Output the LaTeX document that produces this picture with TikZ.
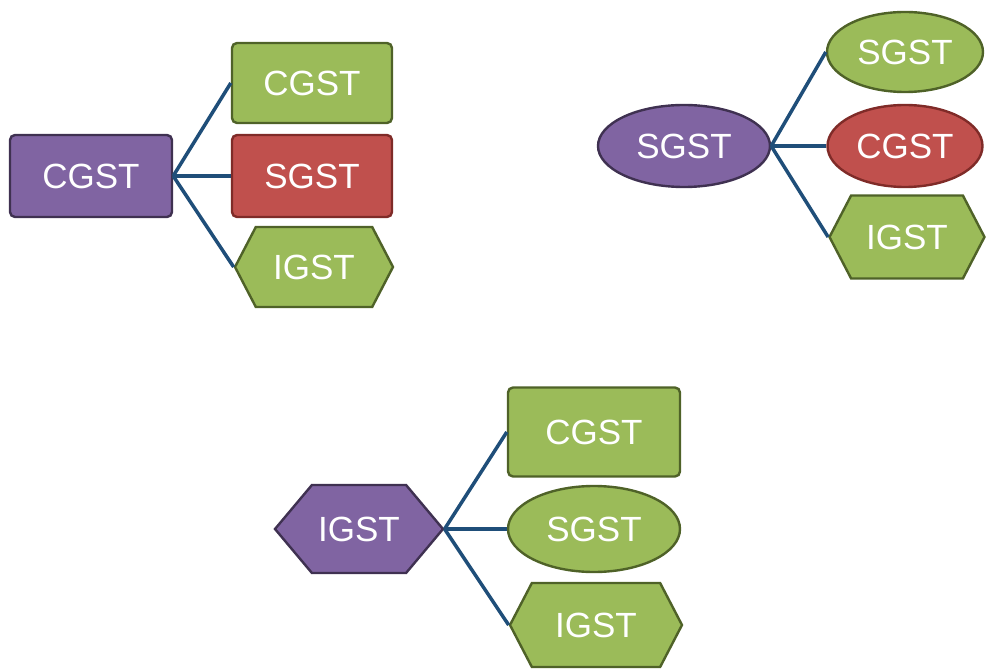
\documentclass[tikz,border=0pt]{standalone}
\usepackage{fontspec}
\setmainfont{Liberation Sans}
\usetikzlibrary{shapes.geometric,shapes.symbols}

\definecolor{headfill}{HTML}{8064A2}
\definecolor{headline}{HTML}{3F3151}
\definecolor{leaffill}{HTML}{9BBB59}
\definecolor{leafline}{HTML}{4F6228}
\definecolor{redfill}{HTML}{C0504D}
\definecolor{redline}{HTML}{7F2B28}
\definecolor{linkblue}{HTML}{1F4E79}

\begin{document}
\begin{tikzpicture}[x=1pt,y=-1pt,
  every node/.style={text=white,font=\fontsize{35}{42}\selectfont,line width=2.4pt,inner sep=0pt},
  box/.style={rectangle,rounded corners=5pt},
  oval/.style={ellipse},
  hexa/.style={signal,signal to=east and west,signal pointer angle=#1},
  hexa/.default=125,
  head/.style={fill=headfill,draw=headline},
  leaf/.style={fill=leaffill,draw=leafline},
  other/.style={fill=redfill,draw=redline},
  link/.style={draw=linkblue,line width=3.5pt}]

\useasboundingbox (0,0) rectangle (989,671);

% CGST
\node[box,head,minimum width=162pt,minimum height=82pt] (cgst) at (91,176) {CGST};
\node[box,leaf,minimum width=160pt,minimum height=80pt] (cgstC) at (312,83) {CGST};
\node[box,other,minimum width=160pt,minimum height=82pt] (cgstS) at (312,176) {SGST};
\node[hexa,leaf,minimum width=158pt,minimum height=80pt] (cgstI) at (314,267) {IGST};
\draw[link] (cgst.east) -- (cgstC.west);
\draw[link] (cgst.east) -- (cgstS.west);
\draw[link] (cgst.east) -- (cgstI.west);

% SGST
\node[oval,head,minimum width=172pt,minimum height=82pt] (sgst) at (684,146) {SGST};
\node[oval,leaf,minimum width=156pt,minimum height=80pt] (sgstS) at (905,52) {SGST};
\node[oval,other,minimum width=155pt,minimum height=82pt] (sgstC) at (905,146) {CGST};
\node[hexa,leaf,minimum width=155pt,minimum height=83pt] (sgstI) at (907,237) {IGST};
\draw[link] (sgst.east) -- (sgstS.west);
\draw[link] (sgst.east) -- (sgstC.west);
\draw[link] (sgst.east) -- (sgstI.west);

% IGST
\node[hexa=100,head,minimum width=168pt,minimum height=88pt] (igst) at (359,529) {IGST};
\node[box,leaf,minimum width=172pt,minimum height=89pt] (igstC) at (594,432) {CGST};
\node[oval,leaf,minimum width=172pt,minimum height=86pt] (igstS) at (594,529) {SGST};
\node[hexa,leaf,minimum width=172pt,minimum height=84pt] (igstI) at (596,625) {IGST};
\draw[link] (igst.east) -- (igstC.west);
\draw[link] (igst.east) -- (igstS.west);
\draw[link] (igst.east) -- (igstI.west);

\end{tikzpicture}
\end{document}
